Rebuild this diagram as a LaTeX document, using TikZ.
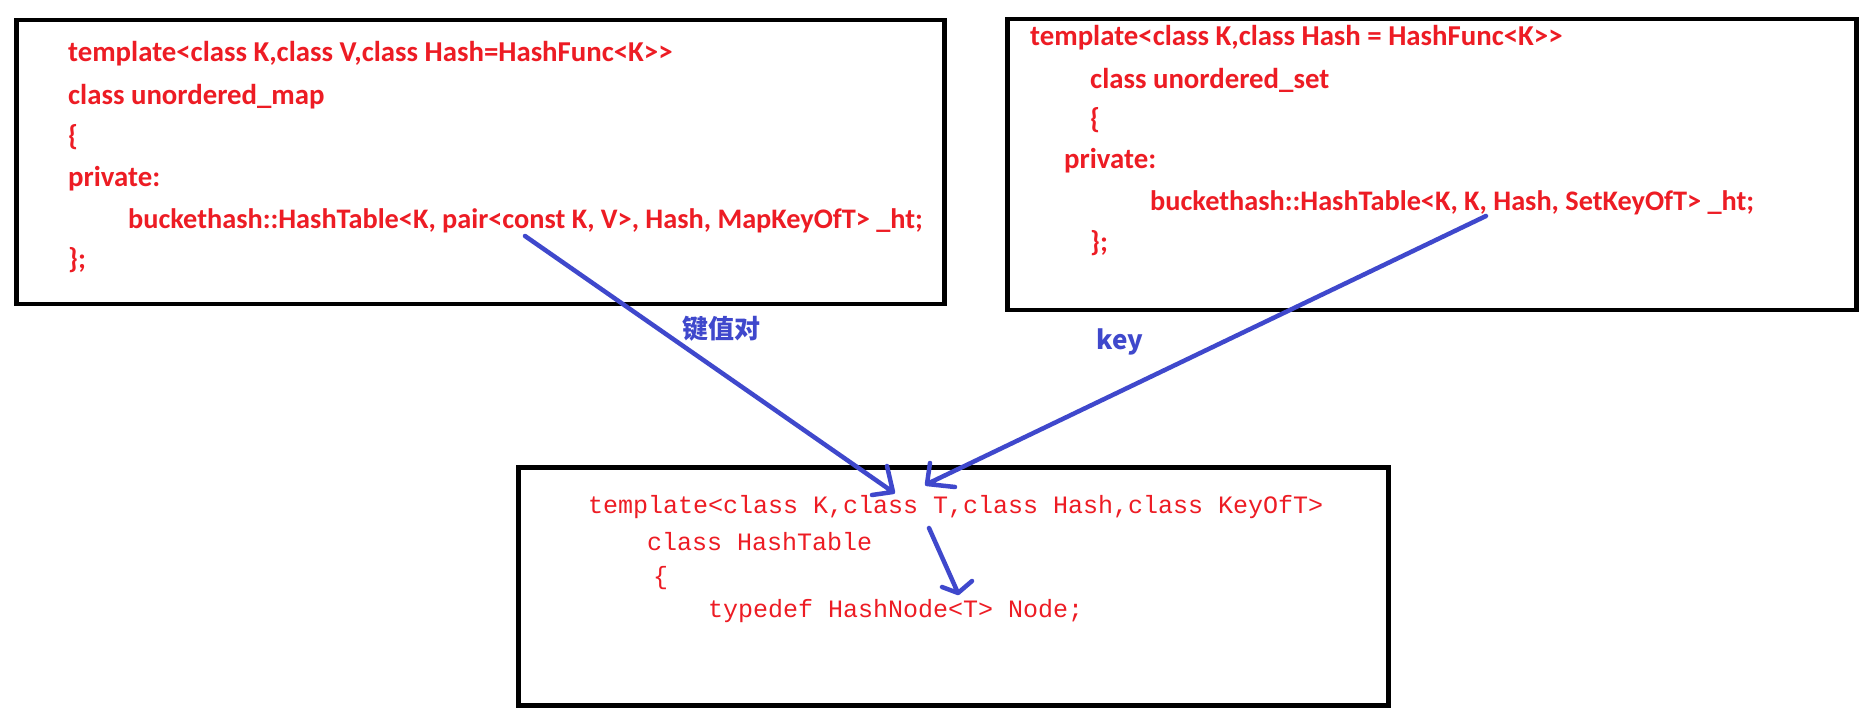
\documentclass[tikz,border=0pt]{standalone}
\usepackage{fontspec}
\setmainfont{Carlito}
\newfontfamily\codefont{Liberation Mono}
\newfontfamily\cjkfont{Noto Sans CJK SC}
\definecolor{codered}{RGB}{237,28,36}
\definecolor{arrowblue}{RGB}{63,72,204}
\tikzset{
  box/.style={draw=black, line width=4.5pt, minimum width=#1, inner sep=0pt, anchor=north west},
  boldcode/.style={text=codered, anchor=west, inner sep=0pt, font=\fontsize{28.8}{34}\selectfont\bfseries},
  boldcodesm/.style={boldcode, font=\fontsize{28.3}{34}\selectfont\bfseries},
  monocode/.style={text=codered, anchor=west, inner sep=0pt, font=\fontsize{25}{30}\selectfont\codefont},
  link/.style={draw=arrowblue, line width=4.5pt, line cap=round, line join=round},
  lbl/.style={text=arrowblue, font=\fontsize{26}{30}\selectfont\cjkfont\bfseries, inner sep=0pt}
}
\begin{document}
\begin{tikzpicture}[x=1pt,y=-1pt]
\useasboundingbox (0,0) rectangle (1869,727);
\fill[white] (0,0) rectangle (1869,727);
% boxes
\node[box=928pt, minimum height=284pt] (mapbox) at (14,18) {};
\node[box=849pt, minimum height=291pt] (setbox) at (1005,17) {};
\node[box=870pt, minimum height=238pt] (htbox) at (516,465) {};
% unordered_map
\node[boldcode] (m1) at (68,54) {template<class K,class V,class Hash=HashFunc<K>{}>};
\node[boldcode] (m2) at (68,97) {class unordered\_map};
\node[boldcode] (m3) at (68,137) {\{};
\node[boldcode] (m4) at (68,179) {private:};
\node[boldcodesm] (m5) at (128,221) {buckethash::HashTable<K, pair<const K, V>, Hash, MapKeyOfT> \_ht;};
\node[boldcode] (m6) at (68,260) {\};};
% unordered_set
\node[boldcode] (s1) at (1030,38) {template<class K,class Hash = HashFunc<K>{}>};
\node[boldcode] (s2) at (1090,80) {class unordered\_set};
\node[boldcode] (s3) at (1090,120) {\{};
\node[boldcode] (s4) at (1064,161) {private:};
\node[boldcodesm] (s5) at (1150,203) {buckethash::HashTable<K, K, Hash, SetKeyOfT> \_ht;};
\node[boldcode] (s6) at (1090,243) {\};};
% HashTable
\node[monocode] (h1) at (588,507) {template<class K,class T,class Hash,class KeyOfT>};
\node[monocode] (h2) at (647,542) {class HashTable};
\node[monocode] (h3) at (653,578) {\{};
\node[monocode] (h4) at (708,611) {typedef HashNode<T> Node;};
% arrow endpoints
\coordinate (pairpt) at (525,236);
\coordinate (kpt) at (1486,216);
\coordinate (tpt1) at (893,492);
\coordinate (tpt2) at (927,484);
\coordinate (tsrc) at (929,528);
\coordinate (nodept) at (958,593);
\draw[link] (pairpt) -- (tpt1) -- ++(-6,-26) (tpt1) -- ++(-21,3);
\draw[link] (kpt) -- (tpt2) -- ++(3,-21) (tpt2) -- ++(28,3);
\draw[link] (tsrc) -- (nodept) -- ++(-16,-6) (nodept) -- ++(14,-12);
% labels
\node[lbl] (l1) at (721,329) {键值对};
\node[lbl] (l2) at (1120,342) {key};
\end{tikzpicture}
\end{document}
